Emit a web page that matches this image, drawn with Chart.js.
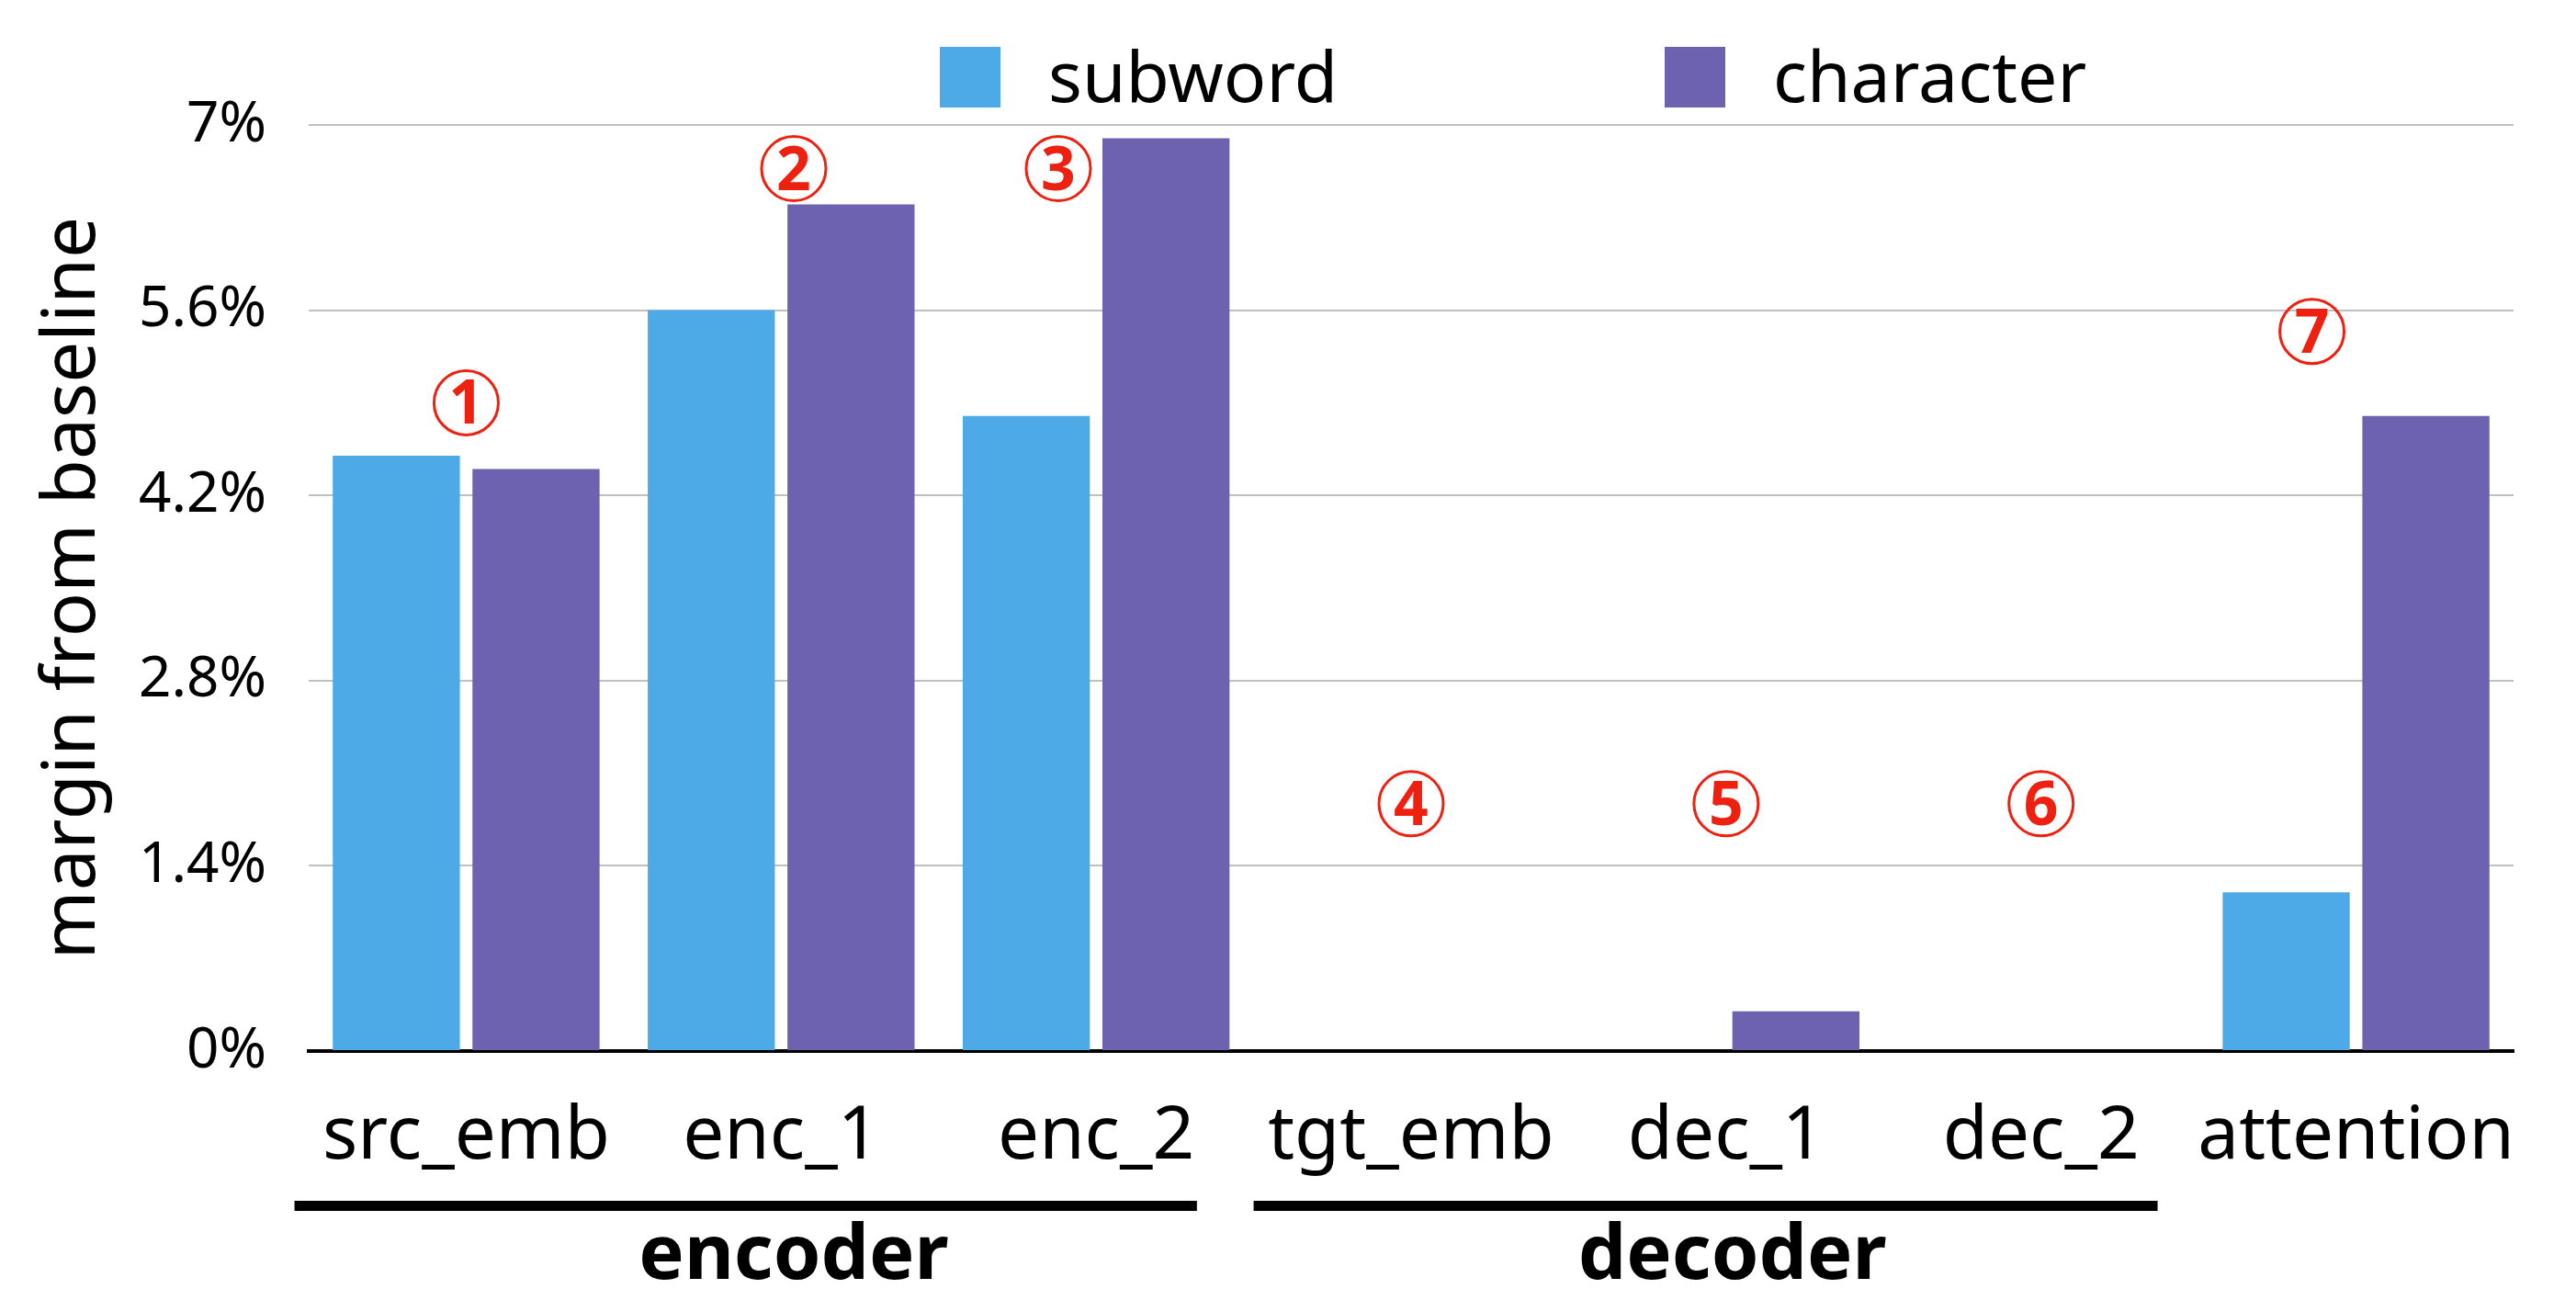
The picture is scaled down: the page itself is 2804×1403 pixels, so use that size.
<!DOCTYPE html>
<html>
<head>
<meta charset="utf-8">
<script src="https://cdn.jsdelivr.net/npm/chart.js@4.4.0/dist/chart.umd.min.js"></script>
<style>
html, body { margin: 0; padding: 0; background: #fff; }
</style>
</head>
<body>
<canvas id="myChart" width="2804" height="1403"></canvas>
<script>
// values (margin from baseline, in %)
const categories = ['src_emb', 'enc_1', 'enc_2', 'tgt_emb', 'dec_1', 'dec_2', 'attention'];
const subwordValues = [4.5, 5.6, 4.8, 0, 0, 0, 1.2];
const characterValues = [4.4, 6.4, 6.9, 0, 0.3, 0, 4.8];
const seriesNames = ['subword', 'character'];

const yTickValues = [0, 1.4, 2.8, 4.2, 5.6, 7];
const yTickLabels = ['0%', '1.4%', '2.8%', '4.2%', '5.6%', '7%'];

// circled numbers: category index (fractional) and y value
const markerDigits = ['1', '2', '3', '4', '5', '6', '7'];
const markerIndex = [0, 1.04, 1.88, 3, 4, 5, 5.86];
const markerValue = [4.9, 6.67, 6.67, 1.87, 1.87, 1.87, 5.44];

// encoder / decoder brackets under the axis (category index units)
const groupNames = ['encoder', 'decoder'];
const groupFrom = [-0.545, 2.5];
const groupTo = [2.32, 5.37];
const groupLabelAt = [1.04, 4.02];

const FONT = "'Noto Sans', 'DejaVu Sans', sans-serif";
const RED = '#ee2010';
Chart.defaults.font.family = FONT;

const markerPlugin = {
    id: 'markers',
    afterDatasetsDraw(chart) {
        const ctx = chart.ctx;
        const xs = chart.scales.x, ys = chart.scales.y;
        ctx.save();
        markerDigits.forEach((d, i) => {
            const x = xs.getPixelForValue(markerIndex[i]);
            const y = ys.getPixelForValue(markerValue[i]);
            ctx.beginPath();
            ctx.strokeStyle = RED;
            ctx.lineWidth = 3;
            ctx.arc(x, y, 35, 0, Math.PI * 2);
            ctx.stroke();
            ctx.fillStyle = RED;
            ctx.font = 'bold 66px ' + FONT;
            ctx.textAlign = 'center';
            ctx.textBaseline = 'alphabetic';
            ctx.fillText(d, x, y + 23);
        });
        ctx.restore();
    }
};

const groupPlugin = {
    id: 'groups',
    afterDraw(chart) {
        const ctx = chart.ctx;
        const xs = chart.scales.x;
        const base = chart.chartArea.bottom;
        ctx.save();
        groupNames.forEach((name, i) => {
            const x0 = xs.getPixelForValue(groupFrom[i]);
            const x1 = xs.getPixelForValue(groupTo[i]);
            ctx.fillStyle = '#000';
            ctx.fillRect(x0, base + 163, x1 - x0, 11);
            ctx.font = 'bold 83px ' + FONT;
            ctx.textAlign = 'center';
            ctx.textBaseline = 'alphabetic';
            ctx.fillText(name, xs.getPixelForValue(groupLabelAt[i]), base + 248);
        });
        ctx.restore();
    }
};

// legend drawn by hand so the spacing matches the figure
const legendPlugin = {
    id: 'customLegend',
    afterDraw(chart) {
        const ctx = chart.ctx;
        ctx.save();
        chart.data.datasets.forEach((ds, i) => {
            const bx = 1023 + i * 789;
            ctx.fillStyle = ds.backgroundColor;
            ctx.fillRect(bx, 51, 66, 66);
            ctx.fillStyle = '#000';
            ctx.font = '77px ' + FONT;
            ctx.textAlign = 'left';
            ctx.textBaseline = 'alphabetic';
            ctx.fillText(ds.label, bx + 118, 111);
        });
        ctx.restore();
    }
};

const ctx = document.getElementById('myChart').getContext('2d');
const myChart = new Chart(ctx, {
    type: 'bar',
    data: {
        labels: categories,
        datasets: [
            {
                label: seriesNames[0],
                data: subwordValues,
                backgroundColor: '#4eaae6',
                borderWidth: 0,
                categoryPercentage: 0.887,
                barPercentage: 0.91,
            },
            {
                label: seriesNames[1],
                data: characterValues,
                backgroundColor: '#6d62b0',
                borderWidth: 0,
                categoryPercentage: 0.887,
                barPercentage: 0.91,
            },
        ]
    },
    options: {
        responsive: false,
        animation: false,
        devicePixelRatio: 1,
        layout: { padding: { top: 136, right: 68, bottom: 0, left: 0 } },
        plugins: {
            legend: { display: false },
            tooltip: { enabled: false },
        },
        scales: {
            x: {
                grid: { display: false, drawTicks: false },
                border: { display: true, color: '#000', width: 4 },
                ticks: {
                    color: '#000',
                    font: { size: 80 },
                    padding: 46,
                    maxRotation: 0,
                    autoSkip: false,
                },
                afterFit: (scale) => { scale.height = 259; },
            },
            y: {
                min: 0,
                max: 7,
                afterBuildTicks: (scale) => {
                    scale.ticks = yTickValues.map(v => ({ value: v }));
                },
                ticks: {
                    color: '#000',
                    font: { size: 62 },
                    padding: 46,
                    callback: (value) => yTickLabels[yTickValues.indexOf(value)],
                },
                grid: { color: '#c0c0c0', lineWidth: 2, drawTicks: false },
                border: { display: false },
                title: {
                    display: true,
                    text: 'margin from baseline',
                    color: '#000',
                    font: { size: 80 },
                    padding: { top: 32, bottom: 0 },
                },
                afterFit: (scale) => { scale.width = 336; },
            }
        }
    },
    plugins: [markerPlugin, groupPlugin, legendPlugin],
});
</script>
</body>
</html>
